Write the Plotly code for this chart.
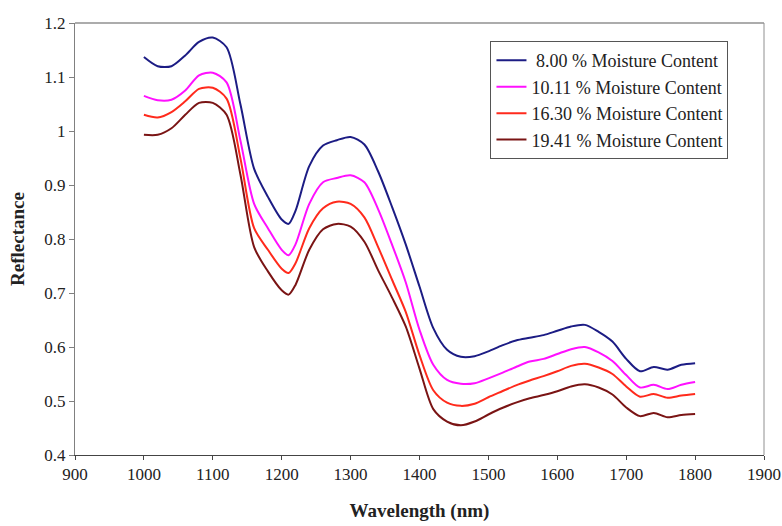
import plotly.graph_objects as go

wavelength = [1000, 1020, 1040, 1060, 1080, 1100, 1120, 1140, 1160, 1180, 1200, 1210, 1220, 1240,
              1260, 1280, 1300, 1320, 1340, 1360, 1380, 1400, 1420, 1440, 1460, 1480, 1500, 1520,
              1540, 1560, 1580, 1600, 1620, 1640, 1660, 1680, 1700, 1720, 1740, 1760, 1780, 1800]

mc_8_00 = [1.137, 1.120, 1.120, 1.140, 1.165, 1.173, 1.155, 1.050, 0.930, 0.878, 0.836, 0.828, 0.852, 0.935,
           0.973, 0.983, 0.989, 0.975, 0.925, 0.860, 0.790, 0.712, 0.635, 0.595, 0.582, 0.583, 0.592, 0.603,
           0.612, 0.617, 0.622, 0.630, 0.638, 0.641, 0.628, 0.610, 0.578, 0.555, 0.563, 0.558, 0.567, 0.570]

mc_10_11 = [1.065, 1.057, 1.058, 1.075, 1.103, 1.108, 1.090, 0.983, 0.865, 0.820, 0.780, 0.770, 0.790, 0.865,
            0.905, 0.913, 0.918, 0.905, 0.855, 0.790, 0.720, 0.632, 0.567, 0.539, 0.532, 0.533, 0.542, 0.552,
            0.563, 0.573, 0.578, 0.587, 0.596, 0.600, 0.590, 0.574, 0.548, 0.525, 0.530, 0.522, 0.530, 0.535]

mc_16_30 = [1.030, 1.025, 1.035, 1.055, 1.078, 1.080, 1.060, 0.950, 0.820, 0.780, 0.745, 0.737, 0.755, 0.820,
            0.857, 0.869, 0.865, 0.840, 0.785, 0.725, 0.665, 0.585, 0.520, 0.497, 0.491, 0.495, 0.507, 0.518,
            0.529, 0.538, 0.546, 0.555, 0.565, 0.569, 0.562, 0.550, 0.527, 0.508, 0.513, 0.506, 0.510, 0.513]

mc_19_41 = [0.993, 0.993, 1.005, 1.030, 1.052, 1.052, 1.030, 0.920, 0.785, 0.740, 0.705, 0.697, 0.715, 0.780,
            0.818, 0.828, 0.823, 0.795, 0.742, 0.692, 0.638, 0.560, 0.485, 0.462, 0.455, 0.462, 0.475, 0.487,
            0.497, 0.505, 0.511, 0.518, 0.527, 0.531, 0.525, 0.512, 0.488, 0.472, 0.478, 0.470, 0.474, 0.476]

legend_names = ["8.00 % Moisture Content", "10.11 % Moisture Content",
                "16.30 % Moisture Content", "19.41 % Moisture Content"]

series = [
    (legend_names[0], mc_8_00, "#1c1c84"),
    (legend_names[1], mc_10_11, "#ff10ff"),
    (legend_names[2], mc_16_30, "#ff2a1c"),
    (legend_names[3], mc_19_41, "#7a1414"),
]

font_family = "Liberation Serif, Times New Roman, serif"

fig = go.Figure()
for name, vals, color in series:
    fig.add_trace(go.Scatter(
        x=wavelength, y=vals, mode="lines",
        name=(" " + name) if name.startswith("8") else name,
        line=dict(color=color, width=2, shape="spline", smoothing=0.8),
    ))

fig.update_layout(
    width=782, height=526,
    margin=dict(l=75, r=18, t=23, b=71, autoexpand=False),
    paper_bgcolor="white", plot_bgcolor="white",
    font=dict(family=font_family, size=17, color="#222222"),
    showlegend=True,
    legend=dict(
        x=0.603, y=0.958, xanchor="left", yanchor="top",
        bordercolor="#555555", borderwidth=1, bgcolor="white",
        font=dict(family=font_family, size=18, color="#222222"),
        tracegroupgap=0, itemwidth=30,
    ),
    xaxis=dict(
        range=[900, 1900], dtick=100, tick0=900, automargin=False,
        showgrid=False, zeroline=False,
        showline=True, linecolor="#444444", linewidth=1, mirror=False,
        ticks="outside", ticklen=4, tickcolor="#444444",
        title=dict(text="<b>Wavelength (nm)</b>", font=dict(family=font_family, size=19, color="#222222"), standoff=20),
        tickfont=dict(family=font_family, size=17, color="#222222"),
    ),
    yaxis=dict(
        range=[0.4, 1.2], dtick=0.1, tick0=0.4, automargin=False,
        showgrid=False, zeroline=False,
        showline=True, linecolor="#808080", linewidth=1, mirror=False,
        ticks="outside", ticklen=5, tickcolor="#808080",
        title=dict(text="<b>Reflectance</b>", font=dict(family=font_family, size=19, color="#222222"), standoff=14),
        tickfont=dict(family=font_family, size=17, color="#222222"),
    ),
    shapes=[
        dict(type="line", xref="paper", yref="paper", x0=0, x1=1, y0=1, y1=1,
             line=dict(color="#909090", width=1.5)),
        dict(type="line", xref="paper", yref="paper", x0=1, x1=1, y0=0, y1=1,
             line=dict(color="#909090", width=1)),
    ],
)

fig.write_html("out.html",
               config={"displayModeBar": False},
               post_script="document.body.style.margin='0';document.body.style.overflow='hidden';")
